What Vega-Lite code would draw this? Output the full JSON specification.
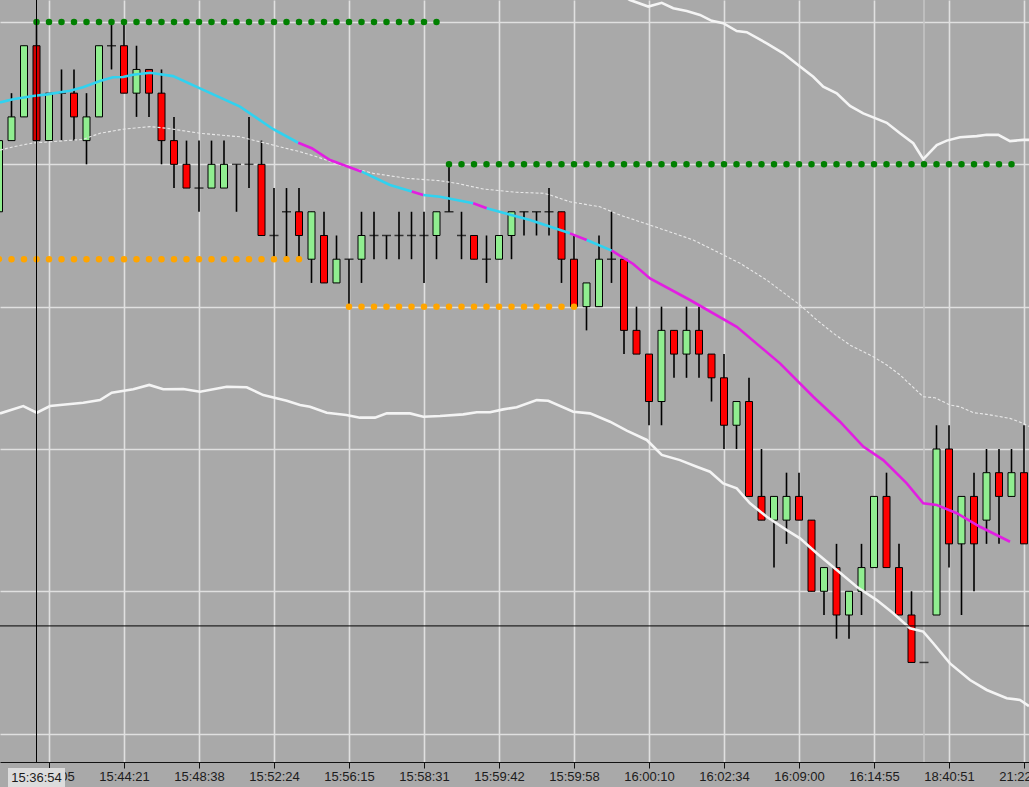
{
"$schema": "https://vega.github.io/schema/vega-lite/v6.json",
"width": 1029, "height": 762, "padding": {"top": 0, "left": 0, "right": 0, "bottom": 25}, "autosize": {"type": "none"},
"background": "#a9a9a9",
"config": {
"view": {"stroke": null},
"scale": {"continuousPadding": 0},
"axisX": {"grid": true, "gridColor": "#e0e0e0", "gridWidth": 1.6, "domainColor": "#111", "domainWidth": 1, "tickColor": "#111", "tickSize": 6, "tickWidth": 1,
"labelFont": "Liberation Sans", "labelFontSize": 13, "labelColor": "#1c1c1c", "labelPadding": 2, "labelFlush": false, "labelOverlap": false, "labelBound": false},
"axisY": {"grid": true, "gridColor": "#e0e0e0", "gridWidth": 1.6, "labels": false, "ticks": false, "domain": false}
},
"resolve": {"scale": {"color": "independent"}},
"datasets": {
"candles": [
{"i":0,"o":28,"h":31,"l":28,"c":31},{"i":1,"o":31,"h":33,"l":31,"c":32},{"i":2,"o":32,"h":35,"l":32,"c":35},{"i":3,"o":35,"h":36,"l":31,"c":31},
{"i":4,"o":31,"h":33,"l":31,"c":33},{"i":5,"o":33,"h":34,"l":31,"c":33},{"i":6,"o":33,"h":34,"l":31,"c":32},{"i":7,"o":31,"h":33,"l":30,"c":32},
{"i":8,"o":32,"h":35,"l":32,"c":35},{"i":9,"o":35,"h":36,"l":34,"c":35},{"i":10,"o":35,"h":36,"l":33,"c":33},{"i":11,"o":33,"h":35,"l":32,"c":34},
{"i":12,"o":34,"h":34,"l":32,"c":33},{"i":13,"o":33,"h":34,"l":30,"c":31},{"i":14,"o":31,"h":32,"l":29,"c":30},{"i":15,"o":30,"h":31,"l":29,"c":29},
{"i":16,"o":29,"h":31,"l":28,"c":29},{"i":17,"o":29,"h":31,"l":29,"c":30},{"i":18,"o":29,"h":31,"l":29,"c":30},{"i":19,"o":30,"h":30,"l":28,"c":30},
{"i":20,"o":30,"h":32,"l":29,"c":30},{"i":21,"o":30,"h":31,"l":27,"c":27},{"i":22,"o":27,"h":29,"l":26,"c":27},{"i":23,"o":28,"h":29,"l":26,"c":28},
{"i":24,"o":28,"h":29,"l":26,"c":27},{"i":25,"o":26,"h":28,"l":25,"c":28},{"i":26,"o":27,"h":28,"l":25,"c":25},{"i":27,"o":25,"h":27,"l":25,"c":26},
{"i":28,"o":26,"h":26,"l":24,"c":26},{"i":29,"o":26,"h":28,"l":25,"c":27},{"i":30,"o":27,"h":28,"l":26,"c":27},{"i":31,"o":27,"h":27,"l":26,"c":27},
{"i":32,"o":27,"h":28,"l":26,"c":27},{"i":33,"o":27,"h":28,"l":26,"c":27},{"i":34,"o":27,"h":28,"l":25,"c":27},{"i":35,"o":27,"h":28,"l":26,"c":28},
{"i":36,"o":28,"h":30,"l":28,"c":28},{"i":37,"o":27,"h":28,"l":26,"c":27},{"i":38,"o":27,"h":27,"l":26,"c":26},{"i":39,"o":26,"h":27,"l":25,"c":26},
{"i":40,"o":26,"h":27,"l":26,"c":27},{"i":41,"o":27,"h":28,"l":26,"c":28},{"i":42,"o":28,"h":28,"l":27,"c":28},{"i":43,"o":28,"h":28,"l":27,"c":28},
{"i":44,"o":28,"h":29,"l":27,"c":28},{"i":45,"o":28,"h":28,"l":25,"c":26},{"i":46,"o":26,"h":27,"l":24,"c":24},{"i":47,"o":24,"h":25,"l":23,"c":25},
{"i":48,"o":24,"h":27,"l":24,"c":26},{"i":49,"o":26,"h":28,"l":25,"c":26},{"i":50,"o":26,"h":26,"l":22,"c":23},{"i":51,"o":23,"h":24,"l":22,"c":22},
{"i":52,"o":22,"h":22,"l":19,"c":20},{"i":53,"o":20,"h":24,"l":19,"c":23},{"i":54,"o":23,"h":23,"l":21,"c":22},{"i":55,"o":22,"h":24,"l":21,"c":23},
{"i":56,"o":23,"h":24,"l":21,"c":22},{"i":57,"o":22,"h":22,"l":20,"c":21},{"i":58,"o":21,"h":22,"l":18,"c":19},{"i":59,"o":19,"h":20,"l":18,"c":20},
{"i":60,"o":20,"h":21,"l":16,"c":16},{"i":61,"o":16,"h":18,"l":15,"c":15},{"i":62,"o":15,"h":16,"l":13,"c":16},{"i":63,"o":15,"h":17,"l":14,"c":16},
{"i":64,"o":16,"h":17,"l":15,"c":15},{"i":65,"o":15,"h":15,"l":12,"c":12},{"i":66,"o":12,"h":13,"l":11,"c":13},{"i":67,"o":13,"h":14,"l":10,"c":11},
{"i":68,"o":11,"h":12,"l":10,"c":12},{"i":69,"o":12,"h":14,"l":11,"c":13},{"i":70,"o":13,"h":16,"l":13,"c":16},{"i":71,"o":16,"h":17,"l":13,"c":13},
{"i":72,"o":13,"h":14,"l":11,"c":11},{"i":73,"o":11,"h":12,"l":9,"c":9},{"i":74,"o":9,"h":9,"l":9,"c":9},{"i":75,"o":11,"h":19,"l":11,"c":18},
{"i":76,"o":18,"h":19,"l":13,"c":14},{"i":77,"o":14,"h":16,"l":11,"c":16},{"i":78,"o":16,"h":17,"l":12,"c":14},{"i":79,"o":15,"h":18,"l":14,"c":17},
{"i":80,"o":17,"h":18,"l":14,"c":16},{"i":81,"o":16,"h":18,"l":16,"c":17},{"i":82,"o":17,"h":19,"l":14,"c":14}
],
"ma": [
{"seg":1,"trend":"up","i":0.08,"p":32.61},{"seg":1,"trend":"up","i":1.12,"p":32.74},{"seg":1,"trend":"up","i":2.72,"p":32.88},{"seg":1,"trend":"up","i":3.84,"p":32.95},
{"seg":1,"trend":"up","i":5.68,"p":33.10},{"seg":1,"trend":"up","i":6.72,"p":33.25},{"seg":1,"trend":"up","i":8.08,"p":33.51},{"seg":1,"trend":"up","i":9.12,"p":33.67},
{"seg":1,"trend":"up","i":9.92,"p":33.68},{"seg":1,"trend":"up","i":10.72,"p":33.78},{"seg":1,"trend":"up","i":12.08,"p":33.86},{"seg":1,"trend":"up","i":13.92,"p":33.72},
{"seg":1,"trend":"up","i":16.08,"p":33.20},{"seg":1,"trend":"up","i":19.28,"p":32.43},{"seg":1,"trend":"up","i":21.94,"p":31.48},{"seg":1,"trend":"up","i":23.94,"p":30.91},
{"seg":2,"trend":"down","i":23.94,"p":30.91},{"seg":2,"trend":"down","i":25.02,"p":30.68},{"seg":2,"trend":"down","i":26.48,"p":30.18},{"seg":2,"trend":"down","i":29.02,"p":29.69},
{"seg":3,"trend":"up","i":29.02,"p":29.69},{"seg":3,"trend":"up","i":31.28,"p":29.13},{"seg":3,"trend":"up","i":33.02,"p":28.85},
{"seg":4,"trend":"down","i":33.02,"p":28.85},{"seg":4,"trend":"down","i":33.94,"p":28.71},
{"seg":5,"trend":"up","i":33.94,"p":28.71},{"seg":5,"trend":"up","i":35.28,"p":28.63},{"seg":5,"trend":"up","i":37.94,"p":28.36},
{"seg":6,"trend":"down","i":37.94,"p":28.36},{"seg":6,"trend":"down","i":39.02,"p":28.15},
{"seg":7,"trend":"up","i":39.02,"p":28.15},{"seg":7,"trend":"up","i":42.48,"p":27.65},{"seg":7,"trend":"up","i":45.68,"p":27.09},
{"seg":8,"trend":"down","i":45.68,"p":27.09},{"seg":8,"trend":"down","i":47.02,"p":26.81},
{"seg":9,"trend":"up","i":47.02,"p":26.81},{"seg":9,"trend":"up","i":49.02,"p":26.36},
{"seg":10,"trend":"down","i":49.02,"p":26.36},{"seg":10,"trend":"down","i":50.74,"p":25.80},{"seg":10,"trend":"down","i":52.08,"p":25.19},{"seg":10,"trend":"down","i":55.28,"p":24.28},
{"seg":10,"trend":"down","i":59.02,"p":23.15},{"seg":10,"trend":"down","i":62.48,"p":21.61},{"seg":10,"trend":"down","i":65.14,"p":20.20},{"seg":10,"trend":"down","i":67.28,"p":19.15},
{"seg":10,"trend":"down","i":69.14,"p":18.10},{"seg":10,"trend":"down","i":70.74,"p":17.53},{"seg":10,"trend":"down","i":72.62,"p":16.55},{"seg":10,"trend":"down","i":73.94,"p":15.71},
{"seg":10,"trend":"down","i":75.02,"p":15.64},{"seg":10,"trend":"down","i":76.62,"p":15.29},{"seg":10,"trend":"down","i":78.48,"p":14.72},{"seg":10,"trend":"down","i":80.88,"p":14.09}
],
"bands": [
{"s":"upper","i":49.04,"p":37.35},{"s":"upper","i":50.48,"p":36.93},{"s":"upper","i":51.94,"p":36.65},{"s":"upper","i":53.02,"p":36.81},{"s":"upper","i":53.94,"p":36.58},
{"s":"upper","i":55.02,"p":36.46},{"s":"upper","i":56.08,"p":36.30},{"s":"upper","i":57.02,"p":36.05},{"s":"upper","i":57.94,"p":35.95},{"s":"upper","i":59.02,"p":35.62},
{"s":"upper","i":59.82,"p":35.57},{"s":"upper","i":61.42,"p":35.10},{"s":"upper","i":62.74,"p":34.68},{"s":"upper","i":64.08,"p":34.12},{"s":"upper","i":65.14,"p":33.69},
{"s":"upper","i":65.94,"p":33.27},{"s":"upper","i":67.02,"p":32.99},{"s":"upper","i":68.08,"p":32.46},{"s":"upper","i":69.14,"p":32.15},{"s":"upper","i":69.94,"p":31.98},
{"s":"upper","i":71.02,"p":31.75},{"s":"upper","i":72.08,"p":31.31},{"s":"upper","i":73.14,"p":30.89},{"s":"upper","i":73.94,"p":30.22},{"s":"upper","i":75.02,"p":30.81},
{"s":"upper","i":75.82,"p":31.00},{"s":"upper","i":76.88,"p":31.14},{"s":"upper","i":78.22,"p":31.19},{"s":"upper","i":79.02,"p":31.25},{"s":"upper","i":79.94,"p":31.24},
{"s":"upper","i":80.88,"p":30.98},{"s":"upper","i":81.94,"p":31.03},{"s":"upper","i":82.4,"p":31.03},
{"s":"lower","i":0.08,"p":19.50},{"s":"lower","i":1.94,"p":19.81},{"s":"lower","i":3.02,"p":19.53},{"s":"lower","i":4.08,"p":19.81},{"s":"lower","i":6.74,"p":19.95},
{"s":"lower","i":8.08,"p":20.06},{"s":"lower","i":9.02,"p":20.37},{"s":"lower","i":10.74,"p":20.52},{"s":"lower","i":12.02,"p":20.70},{"s":"lower","i":13.14,"p":20.52},
{"s":"lower","i":14.74,"p":20.53},{"s":"lower","i":16.08,"p":20.41},{"s":"lower","i":18.22,"p":20.62},{"s":"lower","i":19.82,"p":20.60},{"s":"lower","i":21.14,"p":20.27},
{"s":"lower","i":23.02,"p":20.03},{"s":"lower","i":24.08,"p":19.85},{"s":"lower","i":24.88,"p":19.78},{"s":"lower","i":26.22,"p":19.53},{"s":"lower","i":27.78,"p":19.43},
{"s":"lower","i":28.88,"p":19.32},{"s":"lower","i":30.08,"p":19.32},{"s":"lower","i":31.02,"p":19.50},{"s":"lower","i":32.88,"p":19.50},{"s":"lower","i":33.94,"p":19.36},
{"s":"lower","i":35.28,"p":19.39},{"s":"lower","i":37.14,"p":19.46},{"s":"lower","i":38.22,"p":19.55},{"s":"lower","i":39.28,"p":19.55},{"s":"lower","i":40.34,"p":19.67},
{"s":"lower","i":41.42,"p":19.76},{"s":"lower","i":43.02,"p":20.06},{"s":"lower","i":43.94,"p":20.03},{"s":"lower","i":45.94,"p":19.57},{"s":"lower","i":47.28,"p":19.50},
{"s":"lower","i":48.88,"p":19.15},{"s":"lower","i":50.22,"p":18.77},{"s":"lower","i":51.82,"p":18.38},{"s":"lower","i":53.02,"p":17.75},{"s":"lower","i":54.48,"p":17.53},
{"s":"lower","i":55.82,"p":17.25},{"s":"lower","i":56.88,"p":17.04},{"s":"lower","i":57.94,"p":16.55},{"s":"lower","i":59.02,"p":16.34},{"s":"lower","i":60.08,"p":15.71},
{"s":"lower","i":61.42,"p":15.14},{"s":"lower","i":63.02,"p":14.58},{"s":"lower","i":64.08,"p":14.23},{"s":"lower","i":65.42,"p":13.60},{"s":"lower","i":67.02,"p":12.90},
{"s":"lower","i":68.62,"p":12.19},{"s":"lower","i":70.22,"p":11.63},{"s":"lower","i":71.54,"p":11.07},{"s":"lower","i":72.88,"p":10.44},{"s":"lower","i":73.94,"p":10.30},
{"s":"lower","i":74.74,"p":9.81},{"s":"lower","i":76.08,"p":8.96},{"s":"lower","i":77.68,"p":8.26},{"s":"lower","i":79.02,"p":7.84},{"s":"lower","i":80.62,"p":7.49},
{"s":"lower","i":81.68,"p":7.42},{"s":"lower","i":82.4,"p":7.16}
],
"mid": [
{"i":0.08,"p":30.60},{"i":1.14,"p":30.74},{"i":2.72,"p":30.90},{"i":4.08,"p":30.95},{"i":6.72,"p":31.05},{"i":8.08,"p":31.31},{"i":9.92,"p":31.48},
{"i":12.08,"p":31.59},{"i":13.42,"p":31.52},{"i":16.08,"p":31.31},{"i":19.28,"p":31.16},{"i":21.94,"p":30.81},{"i":24.08,"p":30.53},{"i":25.42,"p":30.32},
{"i":27.28,"p":29.97},{"i":29.94,"p":29.62},{"i":32.62,"p":29.41},{"i":35.28,"p":29.31},{"i":36.62,"p":29.20},{"i":38.74,"p":28.96},{"i":41.42,"p":28.82},
{"i":43.54,"p":28.78},{"i":44.08,"p":28.71},{"i":45.68,"p":28.42},{"i":48.08,"p":28.21},{"i":49.68,"p":27.86},{"i":52.08,"p":27.44},{"i":53.68,"p":27.15},
{"i":55.54,"p":26.81},{"i":57.68,"p":26.25},{"i":59.28,"p":25.83},{"i":61.42,"p":25.12},{"i":64.08,"p":24.07},{"i":65.42,"p":23.44},{"i":66.74,"p":22.88},
{"i":68.08,"p":22.38},{"i":69.94,"p":21.89},{"i":71.02,"p":21.54},{"i":72.08,"p":21.12},{"i":73.94,"p":20.20},{"i":74.88,"p":20.16},{"i":76.08,"p":19.85},
{"i":76.88,"p":19.78},{"i":77.94,"p":19.53},{"i":79.02,"p":19.46},{"i":80.88,"p":19.29},{"i":81.94,"p":19.08},{"i":82.4,"p":18.95}
],
"levels": [
{"kind":"resistance","i0":3,"i1":35,"p":36},
{"kind":"resistance","i0":36,"i1":81,"p":30},
{"kind":"support","i0":0,"i1":24,"p":26},
{"kind":"support","i0":28,"i1":46,"p":24}
],
"cross": [{"i":3,"p":10.54,"label":"15:36:54"}],
"sessions": [{"i":74}]
},
"layer": [
{
"data": {"name": "sessions"},
"mark": {"type": "rule", "color": "#c6c6c6", "strokeWidth": 1.5},
"encoding": {
"x": {"field": "i", "type": "quantitative", "scale": {"domain": [0.08, 82.4], "nice": false, "zero": false, "padding": 0},
"axis": {"orient": "bottom", "title": null, "values": [4,10,16,22,28,34,40,46,52,58,64,70,76,82],
"labelExpr": "['15:40:05','15:44:21','15:48:38','15:52:24','15:56:15','15:58:31','15:59:42','15:59:58','16:00:10','16:02:34','16:09:00','16:14:55','18:40:51','21:22:00'][round((datum.value-4)/6)]"}}
}
},
{
"data": {"name": "candles"},
"mark": {"type": "rule", "color": "#000", "strokeWidth": 1.6, "clip": true},
"encoding": {
"x": {"field": "i", "type": "quantitative", "scale": {"domain": [0.08, 82.4], "nice": false, "zero": false, "padding": 0}, "axis": {"title": null}},
"y": {"field": "l", "type": "quantitative", "scale": {"domain": [4.803, 36.928], "nice": false, "zero": false, "padding": 0},
"axis": {"orient": "left", "title": null, "values": [6,12,18,24,30,36]}},
"y2": {"field": "h"}
}
},
{
"data": {"name": "candles"},
"transform": [{"filter": "datum.o != datum.c"}],
"mark": {"type": "bar", "width": 7, "stroke": "#000", "strokeWidth": 1, "clip": true},
"encoding": {
"x": {"field": "i", "type": "quantitative", "scale": {"domain": [0.08, 82.4], "nice": false, "zero": false, "padding": 0}, "axis": {"title": null}},
"y": {"field": "o", "type": "quantitative", "scale": {"domain": [4.803, 36.928], "nice": false, "zero": false, "padding": 0}, "axis": {"title": null}},
"y2": {"field": "c"},
"fill": {"condition": [{"test": "datum.i == 3", "value": "#d40000"}, {"test": "datum.c > datum.o", "value": "#90ee90"}], "value": "#ff0000"}
}
},
{
"data": {"name": "candles"},
"transform": [{"filter": "datum.o == datum.c"}],
"mark": {"type": "tick", "orient": "horizontal", "size": 9, "thickness": 1.5, "color": "#000", "clip": true},
"encoding": {
"x": {"field": "i", "type": "quantitative", "scale": {"domain": [0.08, 82.4], "nice": false, "zero": false, "padding": 0}, "axis": {"title": null}},
"y": {"field": "o", "type": "quantitative", "scale": {"domain": [4.803, 36.928], "nice": false, "zero": false, "padding": 0}, "axis": {"title": null}}
}
},
{
"data": {"name": "mid"},
"mark": {"type": "line", "color": "#e8e8e8", "strokeWidth": 1.1, "strokeDash": [3, 2], "clip": true},
"encoding": {
"x": {"field": "i", "type": "quantitative", "scale": {"domain": [0.08, 82.4], "nice": false, "zero": false, "padding": 0}, "axis": {"title": null}},
"y": {"field": "p", "type": "quantitative", "scale": {"domain": [4.803, 36.928], "nice": false, "zero": false, "padding": 0}, "axis": {"title": null}}
}
},
{
"data": {"name": "bands"},
"mark": {"type": "line", "color": "#f4f4f4", "strokeWidth": 2.6, "clip": true},
"encoding": {
"x": {"field": "i", "type": "quantitative", "scale": {"domain": [0.08, 82.4], "nice": false, "zero": false, "padding": 0}, "axis": {"title": null}},
"y": {"field": "p", "type": "quantitative", "scale": {"domain": [4.803, 36.928], "nice": false, "zero": false, "padding": 0}, "axis": {"title": null}},
"detail": {"field": "s"}
}
},
{
"data": {"name": "ma"},
"mark": {"type": "line", "strokeWidth": 2.6, "clip": true},
"encoding": {
"x": {"field": "i", "type": "quantitative", "scale": {"domain": [0.08, 82.4], "nice": false, "zero": false, "padding": 0}, "axis": {"title": null}},
"y": {"field": "p", "type": "quantitative", "scale": {"domain": [4.803, 36.928], "nice": false, "zero": false, "padding": 0}, "axis": {"title": null}},
"detail": {"field": "seg"},
"color": {"field": "trend", "type": "nominal", "scale": {"domain": ["up", "down"], "range": ["#30d2f0", "#e21ee2"]}, "legend": null}
}
},
{
"data": {"name": "levels"},
"mark": {"type": "rule", "strokeWidth": 6.5, "strokeCap": "round", "strokeDash": [0.02, 12.48], "strokeDashOffset": 0.01, "clip": true},
"encoding": {
"x": {"field": "i0", "type": "quantitative", "scale": {"domain": [0.08, 82.4], "nice": false, "zero": false, "padding": 0}, "axis": {"title": null}},
"x2": {"field": "i1"},
"y": {"field": "p", "type": "quantitative", "scale": {"domain": [4.803, 36.928], "nice": false, "zero": false, "padding": 0}, "axis": {"title": null}},
"stroke": {"field": "kind", "type": "nominal", "scale": {"domain": ["resistance", "support"], "range": ["#008000", "#ffa500"]}, "legend": null}
}
},
{
"data": {"name": "cross"},
"mark": {"type": "rule", "color": "#000", "strokeWidth": 1},
"encoding": {
"x": {"field": "i", "type": "quantitative", "scale": {"domain": [0.08, 82.4], "nice": false, "zero": false, "padding": 0}, "axis": {"title": null}}
}
},
{
"data": {"name": "cross"},
"mark": {"type": "rule", "color": "#000", "strokeWidth": 1},
"encoding": {
"y": {"field": "p", "type": "quantitative", "scale": {"domain": [4.803, 36.928], "nice": false, "zero": false, "padding": 0}, "axis": {"title": null}}
}
},
{
"data": {"name": "cross"},
"mark": {"type": "bar", "width": 57, "color": "#dcdcdc"},
"encoding": {
"x": {"field": "i", "type": "quantitative", "scale": {"domain": [0.08, 82.4], "nice": false, "zero": false, "padding": 0}, "axis": {"title": null}},
"y": {"datum": 4.55, "type": "quantitative", "scale": {"domain": [4.803, 36.928], "nice": false, "zero": false, "padding": 0}, "axis": {"title": null}},
"y2": {"datum": 3.7}
}
},
{
"data": {"name": "cross"},
"mark": {"type": "text", "font": "Liberation Sans", "fontSize": 13, "color": "#1c1c1c", "align": "center", "baseline": "middle"},
"encoding": {
"x": {"field": "i", "type": "quantitative", "scale": {"domain": [0.08, 82.4], "nice": false, "zero": false, "padding": 0}, "axis": {"title": null}},
"y": {"datum": 4.12, "type": "quantitative", "scale": {"domain": [4.803, 36.928], "nice": false, "zero": false, "padding": 0}, "axis": {"title": null}},
"text": {"field": "label"}
}
}
]
}
